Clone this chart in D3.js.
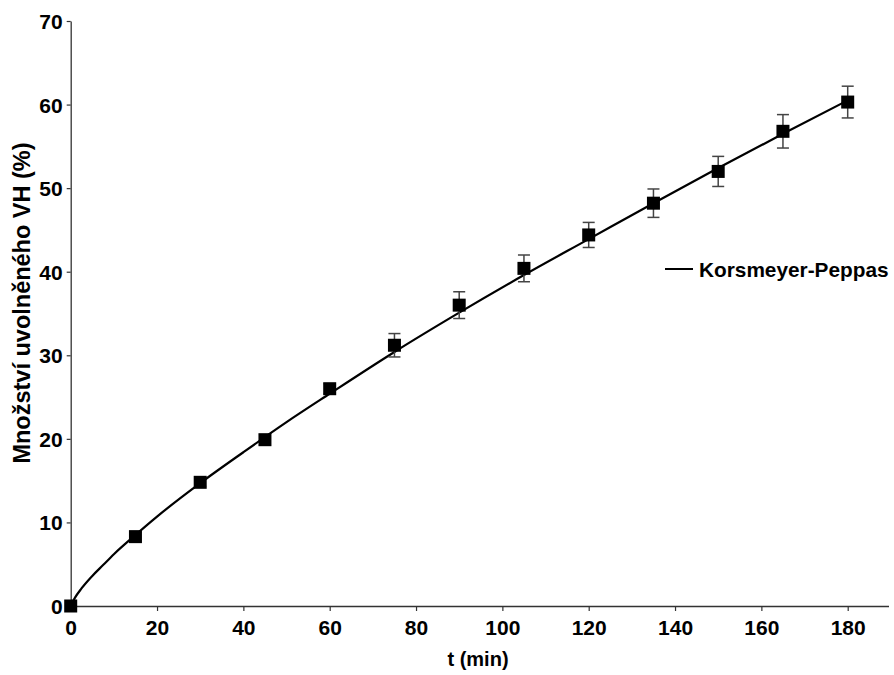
<!DOCTYPE html>
<html>
<head>
<meta charset="utf-8">
<script src="https://cdn.jsdelivr.net/npm/d3@7"></script>
<style>
  body { margin: 0; background: #fff; }
  svg text { font-family: "Liberation Sans", Arial, sans-serif; font-weight: bold; fill: #000; }
</style>
</head>
<body>
<svg id="chart" width="894" height="675"></svg>
<script>
// measured release points (t in min, % released, +/- error)
const times = [0, 15, 30, 45, 60, 75, 90, 105, 120, 135, 150, 165, 180];
const released = [0, 8.3, 14.8, 19.9, 26.0, 31.2, 36.0, 40.4, 44.4, 48.2, 52.0, 56.8, 60.3];
const errors = [0, 0.5, 0.5, 0.6, 0.6, 1.4, 1.6, 1.6, 1.5, 1.7, 1.8, 2.0, 1.9];

// fitted Korsmeyer-Peppas curve
const fitT = [0, 1, 2.5, 5, 7.5, 10, 15, 20, 30, 40, 50, 60, 75, 90, 105, 120, 135, 150, 165, 180];
const fitY = [0, 1.0, 2.1, 3.6, 4.9, 6.2, 8.5, 10.7, 14.7, 18.4, 22.0, 25.4, 30.4, 35.1, 39.6, 43.9, 48.2, 52.4, 56.5, 60.5];

const xTicks = [0, 20, 40, 60, 80, 100, 120, 140, 160, 180];
const yTicks = [0, 10, 20, 30, 40, 50, 60, 70];

const svg = d3.select('#chart');
const x = d3.scaleLinear().domain([0, 180]).range([70.7, 847.7]);
const y = d3.scaleLinear().domain([0, 70]).range([606, 21]);

// axes
const xAxis = svg.append('g')
  .attr('transform', `translate(0,${y(0)})`)
  .call(d3.axisBottom(x).tickValues(xTicks).tickSize(5).tickPadding(9).tickSizeOuter(0));
xAxis.select('.domain').attr('d', `M${x(0)},0.5H889`);

const yAxis = svg.append('g')
  .attr('transform', `translate(${x(0)},0)`)
  .call(d3.axisLeft(y).tickValues(yTicks).tickSize(4).tickPadding(4).tickSizeOuter(0));

svg.selectAll('.domain').attr('stroke', '#333').attr('stroke-width', 1.3);
svg.selectAll('.tick line').attr('stroke', '#333').attr('stroke-width', 1.2);
svg.selectAll('.tick text')
  .attr('font-size', 21)
  .style('font-family', '"Liberation Sans", Arial, sans-serif')
  .style('font-weight', 'bold')
  .attr('fill', '#000');
yAxis.selectAll('.tick text').attr('dy', '0.36em');

// axis titles
svg.append('text')
  .attr('x', 478).attr('y', 666)
  .attr('text-anchor', 'middle')
  .attr('font-size', 20)
  .text('t (min)');

svg.append('text')
  .attr('transform', 'translate(30,303) rotate(-90)')
  .attr('text-anchor', 'middle')
  .attr('font-size', 23.5)
  .text('Množství uvolněného VH (%)');

// fitted line
const line = d3.line()
  .x((d, i) => x(fitT[i]))
  .y(d => y(d))
  .curve(d3.curveMonotoneX);

svg.append('path')
  .datum(fitY)
  .attr('d', line)
  .attr('fill', 'none')
  .attr('stroke', '#000')
  .attr('stroke-width', 2.2);

// error bars
const pts = times.map((t, i) => ({t, v: released[i], e: errors[i]}));
const eb = svg.append('g').attr('stroke', '#444').attr('stroke-width', 1.5);
pts.filter(d => d.e > 0).forEach(d => {
  eb.append('line')
    .attr('x1', x(d.t)).attr('x2', x(d.t))
    .attr('y1', y(d.v + d.e)).attr('y2', y(d.v - d.e));
  [d.v + d.e, d.v - d.e].forEach(v => {
    eb.append('line')
      .attr('x1', x(d.t) - 6).attr('x2', x(d.t) + 6)
      .attr('y1', y(v)).attr('y2', y(v));
  });
});

// markers
const ms = 13;
svg.append('g').selectAll('rect')
  .data(pts)
  .join('rect')
  .attr('x', d => x(d.t) - ms / 2)
  .attr('y', d => y(d.v) - ms / 2)
  .attr('width', ms)
  .attr('height', ms)
  .attr('fill', '#000');

// legend
const lg = svg.append('g').attr('transform', 'translate(665,269)');
lg.append('line').attr('x1', 0).attr('x2', 28).attr('y1', 0).attr('y2', 0)
  .attr('stroke', '#000').attr('stroke-width', 2);
lg.append('text').attr('x', 34).attr('y', 0).attr('dy', '0.36em')
  .attr('font-size', 20.8)
  .text('Korsmeyer-Peppas');
</script>
</body>
</html>
